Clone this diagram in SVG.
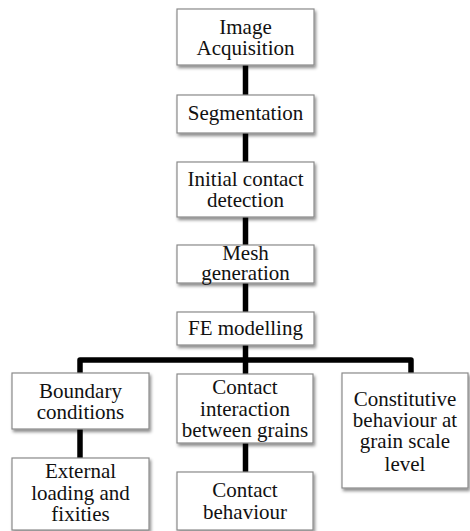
<svg xmlns="http://www.w3.org/2000/svg" width="470" height="531" viewBox="0 0 470 531">
<defs>
<filter id="sh" x="-10%" y="-10%" width="125%" height="130%">
<feDropShadow dx="1.5" dy="2.5" stdDeviation="1.5" flood-color="#000" flood-opacity="0.45"/>
</filter>
<style>
.box{fill:#fff;stroke:#8a8a8a;stroke-width:1.2;filter:url(#sh)}
.t{font-family:"Liberation Serif","Times New Roman",serif;font-size:21px;fill:#111;text-anchor:middle}
.c{fill:none;stroke:#000;stroke-width:5.5;stroke-linejoin:round}
</style>
</defs>
<rect width="470" height="531" fill="#fff"/>
<g id="connectors">
<path class="c" d="M245.5,65V95"/>
<path class="c" d="M245.5,133V162"/>
<path class="c" d="M245.5,217V245"/>
<path class="c" d="M245.5,283V312"/>
<path class="c" d="M245.5,345V374"/>
<path class="c" d="M80,373V360H411V373"/>
<path class="c" d="M80,429V458"/>
<path class="c" d="M245.5,443V472"/>
</g>
<g id="n1"><rect class="box" x="177" y="9" width="137" height="56"/><text class="t" x="245.5" y="34">Image</text><text class="t" x="245.5" y="55">Acquisition</text></g>
<g id="n2"><rect class="box" x="177" y="95" width="137" height="38"/><text class="t" x="245.5" y="120">Segmentation</text></g>
<g id="n3"><rect class="box" x="177" y="162" width="137" height="55"/><text class="t" x="245.5" y="186">Initial contact</text><text class="t" x="245.5" y="207">detection</text></g>
<g id="n4"><rect class="box" x="177" y="245" width="137" height="38"/><text class="t" x="245.5" y="260">Mesh</text><text class="t" x="245.5" y="280">generation</text></g>
<g id="n5"><rect class="box" x="177" y="312" width="137" height="33"/><text class="t" x="245.5" y="335">FE modelling</text></g>
<g id="n6"><rect class="box" x="12" y="373" width="137" height="56"/><text class="t" x="80.5" y="398">Boundary</text><text class="t" x="80.5" y="419">conditions</text></g>
<g id="n7"><rect class="box" x="12" y="458" width="137" height="72"/><text class="t" x="80.5" y="478">External</text><text class="t" x="80.5" y="500">loading and</text><text class="t" x="80.5" y="521">fixities</text></g>
<g id="n8"><rect class="box" x="177" y="374" width="136" height="69"/><text class="t" x="245" y="394">Contact</text><text class="t" x="245" y="416">interaction</text><text class="t" x="245" y="437">between grains</text></g>
<g id="n9"><rect class="box" x="177" y="472" width="136" height="58"/><text class="t" x="245" y="497">Contact</text><text class="t" x="245" y="519">behaviour</text></g>
<g id="n10"><rect class="box" x="342" y="373" width="126" height="115"/><text class="t" x="405" y="406">Constitutive</text><text class="t" x="405" y="427">behaviour at</text><text class="t" x="405" y="448">grain scale</text><text class="t" x="405" y="471">level</text></g>
</svg>
